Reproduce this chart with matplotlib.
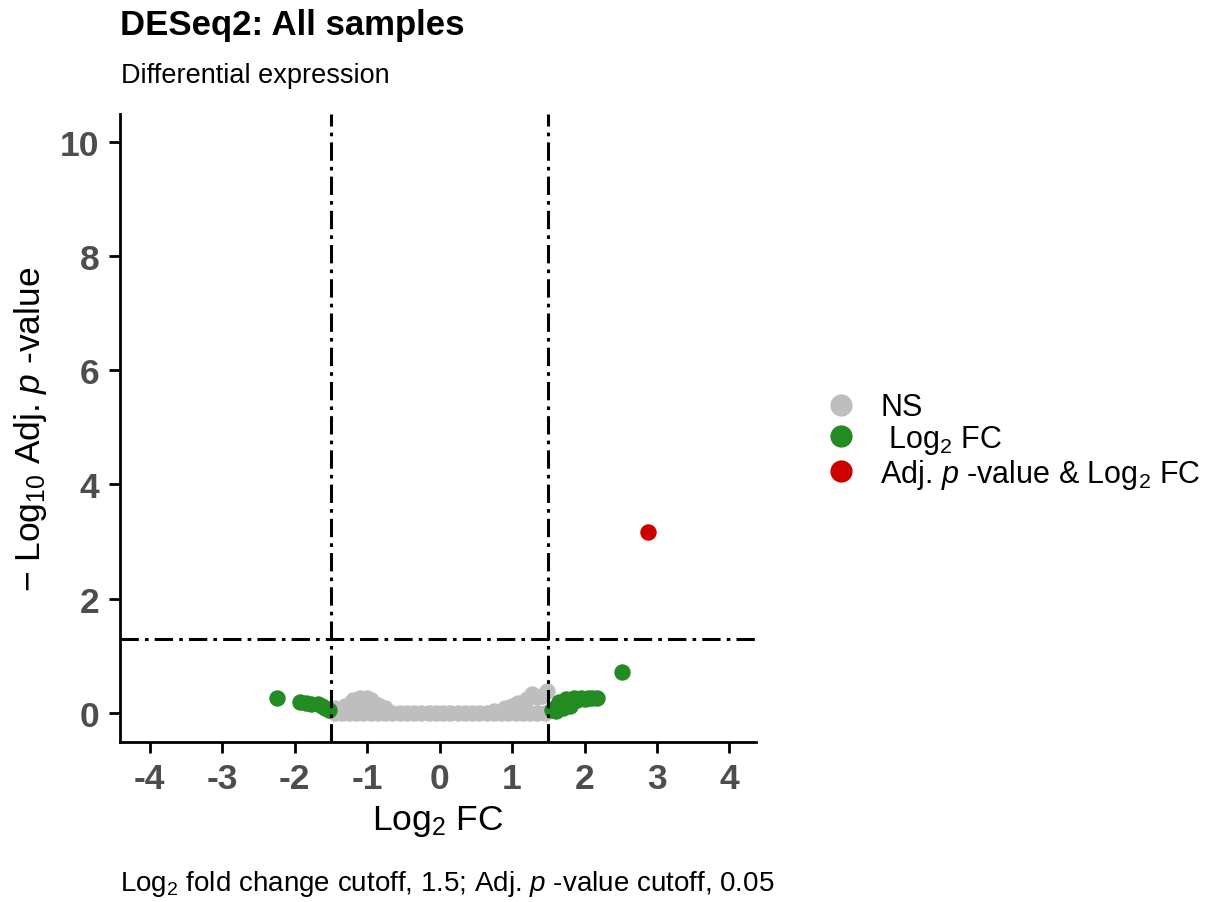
import matplotlib
matplotlib.use('Agg')
import matplotlib.pyplot as plt
from matplotlib.lines import Line2D

plt.rcParams['font.family'] = ['Liberation Sans', 'DejaVu Sans']
plt.rcParams['mathtext.fontset'] = 'custom'
plt.rcParams['mathtext.rm'] = 'Liberation Sans'
plt.rcParams['mathtext.it'] = 'Liberation Sans:italic'
plt.rcParams['mathtext.bf'] = 'Liberation Sans:bold'

# not significant genes (log2FC, -log10 adj p)
ns_x = [-1.45, -1.35, -1.25, -1.15, -1.05, -0.95, -0.85, -0.75, -0.65, -0.55,
        -0.45, -0.35, -0.25, -0.15, -0.05, 0.05, 0.15, 0.25, 0.35, 0.45,
        0.55, 0.65, 0.75, 0.85, 0.95, 1.05, 1.15, 1.25, 1.35, 1.45,
        -1.45, -1.3, -1.2, -1.1, -1.0, -0.95, -0.85, -0.75,
        0.75, 0.9, 1.0, 1.08, 1.2, 1.28, 1.35, 1.42, 1.48]
ns_y = [0.0] * 30 + [0.08, 0.12, 0.22, 0.26, 0.26, 0.22, 0.14, 0.08,
                     0.04, 0.08, 0.12, 0.17, 0.24, 0.33, 0.28, 0.30, 0.38]

# log2FC only
fc_x = [-2.24, -1.93, -1.85, -1.78, -1.68, -1.62, -1.58, -1.53,
        1.55, 1.6, 1.6, 1.65, 1.7, 1.7, 1.75, 1.8, 1.8, 1.85, 1.9, 1.95,
        2.0, 2.05, 2.1, 2.17, 2.52]
fc_y = [0.26, 0.19, 0.17, 0.15, 0.16, 0.13, 0.08, 0.05,
        0.05, 0.10, 0.03, 0.20, 0.15, 0.08, 0.25, 0.20, 0.12, 0.27, 0.22, 0.27,
        0.25, 0.27, 0.27, 0.27, 0.71]

# adj p-value and log2FC
sig_x = [2.87]
sig_y = [3.17]

fc_cut = 1.5
p_cut = 1.30103  # -log10(0.05)

xticks = [-4, -3, -2, -1, 0, 1, 2, 3, 4]
yticks = [0, 2, 4, 6, 8, 10]

fig = plt.figure(figsize=(12.12, 9.03), dpi=100)
ax = fig.add_axes([0.099, 0.177, 0.525, 0.696])

ms = 140
ax.scatter(ns_x, ns_y, s=ms, color='#BEBEBE', linewidths=0, zorder=2)
ax.scatter(fc_x, fc_y, s=ms, color='#228B22', linewidths=0, zorder=3)
ax.scatter(sig_x, sig_y, s=ms, color='#CD0000', linewidths=0, zorder=4)

for v in (-fc_cut, fc_cut):
    ax.axvline(v, color='black', lw=2.2, ls=(0, (6, 2, 1.2, 2)), zorder=5)
ax.axhline(p_cut, color='black', lw=2.2, ls=(0, (6, 2, 1.2, 2)), zorder=5)

ax.set_xlim(-4.41, 4.37)
ax.set_ylim(-0.51, 10.49)
ax.set_xticks(xticks)
ax.set_yticks(yticks)
ax.set_xticklabels([str(t) for t in xticks])
ax.tick_params(axis='both', labelsize=25.5, labelcolor='#4D4D4D', length=8, width=2, color='black')
ax.tick_params(axis='x', pad=6)
ax.tick_params(axis='y', pad=7)
for lab in ax.get_xticklabels() + ax.get_yticklabels():
    lab.set_fontweight('bold')
for s in ('top', 'right'):
    ax.spines[s].set_visible(False)
for s in ('left', 'bottom'):
    ax.spines[s].set_linewidth(2)

ax.set_xlabel('Log$_{2}$ FC', fontsize=25.5, labelpad=6)
ax.set_ylabel('$-$ Log$_{10}$ Adj. $\\it{p}$ -value', fontsize=25.5, labelpad=8)

fig.text(0.099, 0.972, 'DESeq2: All samples', fontsize=25, fontweight='bold', ha='left', va='center')
fig.text(0.1, 0.916, 'Differential expression', fontsize=19.5, ha='left', va='center')
fig.text(0.099, 0.021, 'Log$_{2}$ fold change cutoff, 1.5; Adj. $\\it{p}$ -value cutoff, 0.05',
         fontsize=20, ha='left', va='center')

handles = [Line2D([], [], marker='o', ls='none', markersize=16, color=c, markeredgewidth=0)
           for c in ('#BEBEBE', '#228B22', '#CD0000')]
labels = ['NS', ' Log$_{2}$ FC', 'Adj. $\\it{p}$ -value & Log$_{2}$ FC']
fig.legend(handles, labels, loc='center left', bbox_to_anchor=(0.671, 0.51), frameon=False,
           fontsize=22, handletextpad=0.8, handlelength=1.0, labelspacing=0.02, borderaxespad=0)

plt.savefig('out.png', dpi=100)
plt.close()
